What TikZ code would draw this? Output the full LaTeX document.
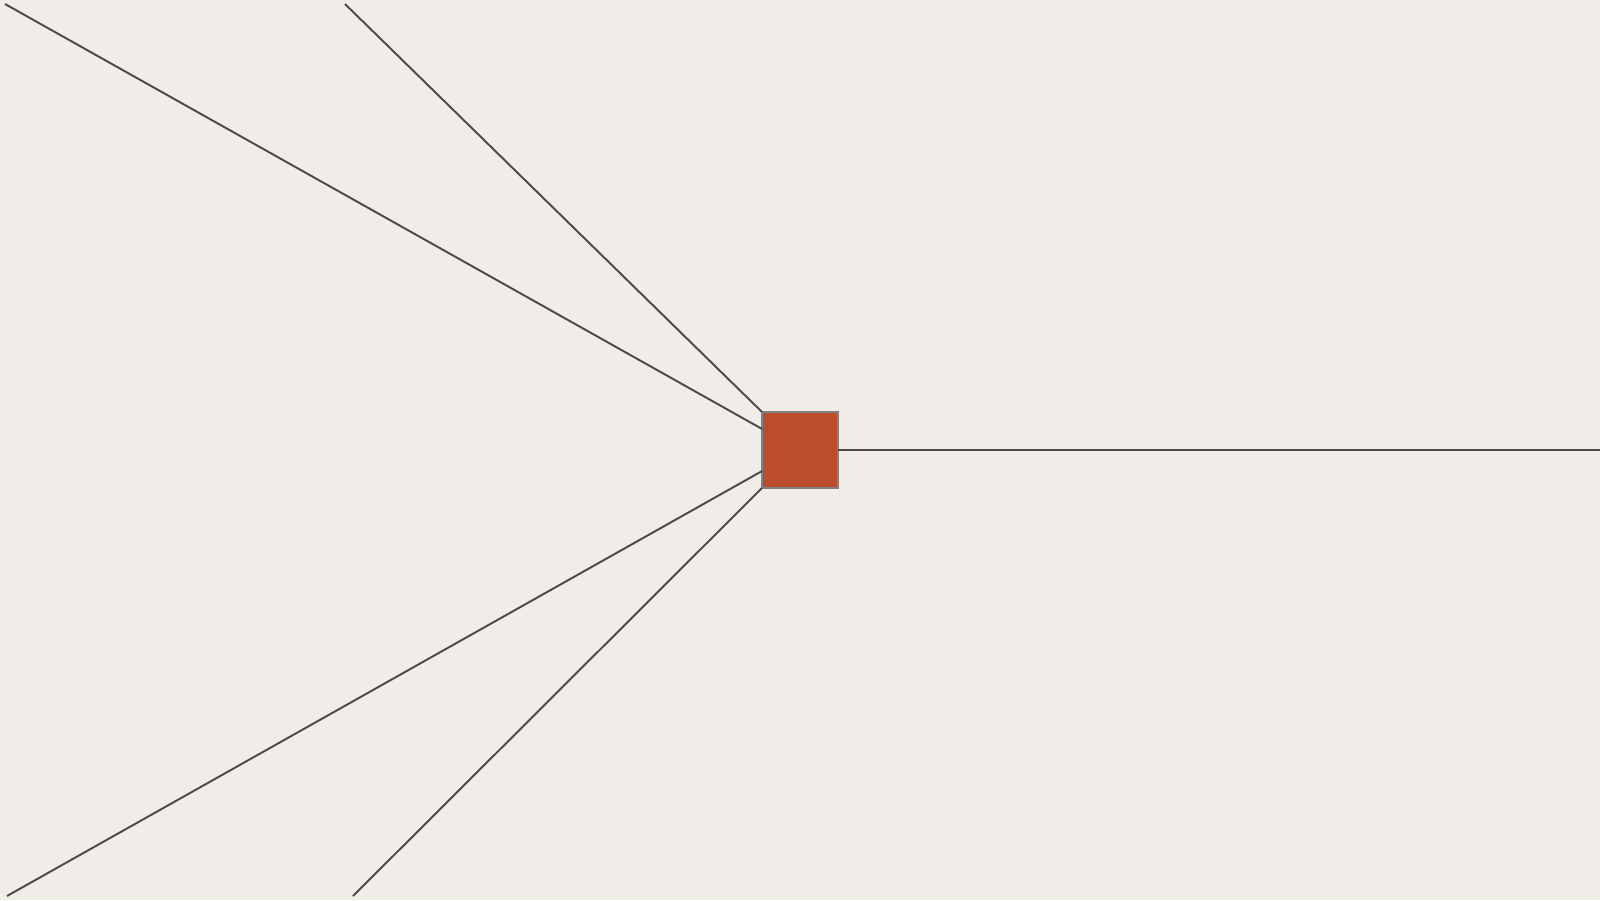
\documentclass[tikz,border=0pt]{standalone}
\usepackage{tikz}
\usetikzlibrary{positioning}
\definecolor{paper}{HTML}{F0EDE8}
\definecolor{rust}{HTML}{BB4D2E}
\definecolor{wire}{HTML}{4A4A4A}
\tikzset{hubbox/.style={draw=gray,line width=0.4pt,fill=rust,minimum size=0.76cm,inner sep=0pt,outer sep=0pt},
        spoke/.style={draw=wire,line width=0.55pt}}

\begin{document}
\begin{tikzpicture}
  \fill[paper] (0,0) rectangle (16,9);
  \useasboundingbox (0,0) rectangle (16,9);
  \node[hubbox] (hub) at (8,4.5) {};
  % loose ends
  \coordinate (ul) at (0.05,8.96);
  \coordinate (um) at (3.45,8.96);
  \coordinate (ll) at (0.07,0.04);
  \coordinate (lm) at (3.53,0.04);
  \coordinate (out) at (16,4.5);
  \draw[spoke] (ul) -- (hub.151);
  \draw[spoke] (um) -- (hub.north west);
  \draw[spoke] (ll) -- (hub.209);
  \draw[spoke] (lm) -- (hub.south west);
  \draw[spoke] (hub.east) -- (out);
\end{tikzpicture}
\end{document}
